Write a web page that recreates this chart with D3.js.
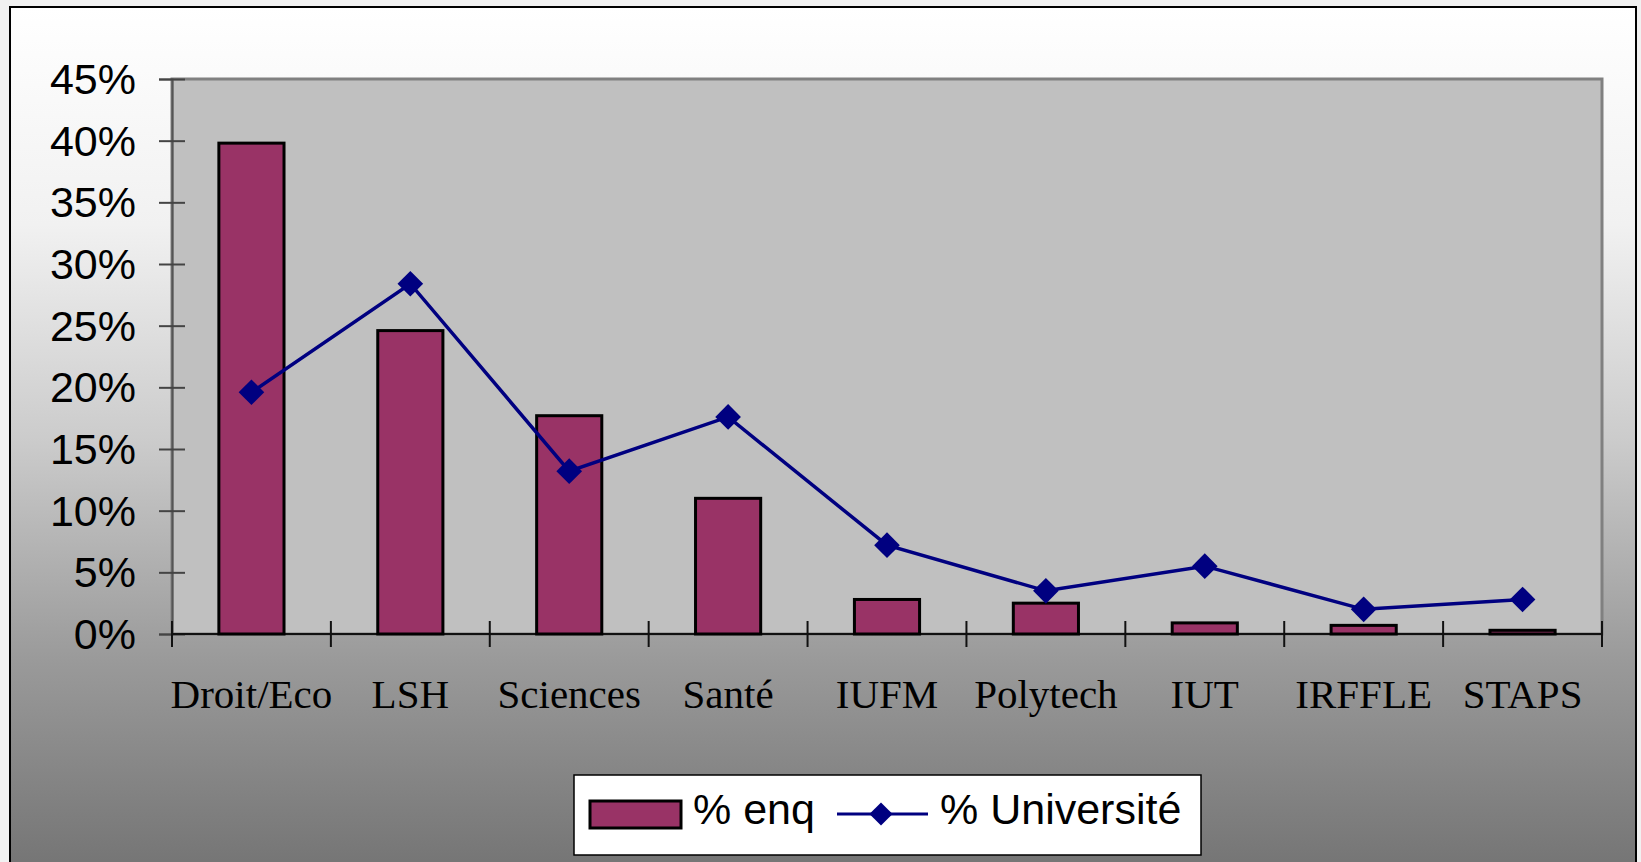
<!DOCTYPE html>
<html>
<head>
<meta charset="utf-8">
<script src="https://cdn.jsdelivr.net/npm/d3@7"></script>
<style>
  html, body { margin: 0; padding: 0; background: #f1f1f1; }
  svg { display: block; }
</style>
</head>
<body>
<svg width="1641" height="862"></svg>
<script>
// data
const categories = ["Droit/Eco", "LSH", "Sciences", "Santé", "IUFM", "Polytech", "IUT", "IRFFLE", "STAPS"];
const pctEnq = [39.8, 24.6, 17.7, 11.0, 2.8, 2.5, 0.9, 0.7, 0.3];
const pctUniv = [19.6, 28.4, 13.2, 17.6, 7.2, 3.5, 5.5, 2.0, 2.8];
const yTicks = [0, 5, 10, 15, 20, 25, 30, 35, 40, 45];
const seriesNames = ["% enq", "% Université"];

const svg = d3.select("svg"),
    width = 1641,
    height = 862;

const plot = { left: 172, top: 79, right: 1602, bottom: 634 };

// background gradient of the chart frame
const defs = svg.append("defs");
const grad = defs.append("linearGradient")
    .attr("id", "bg")
    .attr("x1", 0).attr("y1", 0).attr("x2", 0).attr("y2", 1);
[[0, "#ffffff"], [0.25, "#f1f1f1"], [0.5, "#cbcbcb"], [0.75, "#9a9a9a"], [1, "#737373"]]
    .forEach(function(s) {
        grad.append("stop").attr("offset", s[0]).attr("stop-color", s[1]);
    });

svg.append("rect")
    .attr("x", 10).attr("y", 7)
    .attr("width", 1626).attr("height", 870)
    .attr("fill", "url(#bg)")
    .attr("stroke", "#000")
    .attr("stroke-width", 2);

const x = d3.scaleBand()
    .domain(categories)
    .range([plot.left, plot.right]);

const y = d3.scaleLinear()
    .domain([0, 45])
    .range([plot.bottom, plot.top]);

// plot area
svg.append("rect")
    .attr("x", plot.left).attr("y", plot.top)
    .attr("width", plot.right - plot.left)
    .attr("height", plot.bottom - plot.top)
    .attr("fill", "#c0c0c0")
    .attr("stroke", "#808080")
    .attr("stroke-width", 3);

// y axis
const yAxis = svg.append("g")
    .attr("transform", "translate(" + plot.left + ",0)")
    .call(d3.axisLeft(y)
        .tickValues(yTicks)
        .tickSize(13)
        .tickFormat(function(d) { return d + "%"; }));

yAxis.select(".domain").attr("stroke", "#555").attr("stroke-width", 2);
yAxis.selectAll(".tick line")
    .attr("x1", 13)
    .attr("stroke", "#444")
    .attr("stroke-width", 2);
yAxis.selectAll(".tick text")
    .attr("x", -36)
    .attr("dy", "0.34em")
    .attr("fill", "#000")
    .style("font-family", "'Liberation Sans', Arial, sans-serif")
    .style("font-size", "43px");

// x axis: ticks between the categories
const xAxis = svg.append("g")
    .attr("transform", "translate(0," + plot.bottom + ")");

xAxis.append("line")
    .attr("x1", plot.left).attr("x2", plot.right)
    .attr("stroke", "#111")
    .attr("stroke-width", 2);

xAxis.selectAll(".sep")
    .data(categories.concat(["end"]))
    .enter().append("line")
    .attr("class", "sep")
    .attr("x1", function(d, i) { return plot.left + i * x.bandwidth(); })
    .attr("x2", function(d, i) { return plot.left + i * x.bandwidth(); })
    .attr("y1", -13).attr("y2", 13)
    .attr("stroke", "#111")
    .attr("stroke-width", 2);

xAxis.selectAll(".lab")
    .data(categories)
    .enter().append("text")
    .attr("class", "lab")
    .attr("x", function(d) { return x(d) + x.bandwidth() / 2; })
    .attr("y", 74)
    .attr("text-anchor", "middle")
    .style("font-family", "'Liberation Serif', 'Times New Roman', serif")
    .style("font-size", "41px")
    .text(function(d) { return d; });

// bars
const barW = x.bandwidth() * 0.41;
svg.append("g")
    .selectAll("rect")
    .data(pctEnq)
    .enter().append("rect")
    .attr("x", function(d, i) { return x(categories[i]) + (x.bandwidth() - barW) / 2; })
    .attr("y", function(d) { return y(d); })
    .attr("width", barW)
    .attr("height", function(d) { return y(0) - y(d); })
    .attr("fill", "#993366")
    .attr("stroke", "#000")
    .attr("stroke-width", 3);

// line
const line = d3.line()
    .x(function(d, i) { return x(categories[i]) + x.bandwidth() / 2; })
    .y(function(d) { return y(d); });

svg.append("path")
    .datum(pctUniv)
    .attr("d", line)
    .attr("fill", "none")
    .attr("stroke", "#000080")
    .attr("stroke-width", 3.5);

const diamond = d3.symbol().type(d3.symbolDiamond2).size(420);
svg.append("g")
    .selectAll("path")
    .data(pctUniv)
    .enter().append("path")
    .attr("d", diamond)
    .attr("transform", function(d, i) {
        return "translate(" + (x(categories[i]) + x.bandwidth() / 2) + "," + y(d) + ")";
    })
    .attr("fill", "#000080");

// legend
const legend = svg.append("g").attr("transform", "translate(574,775)");
legend.append("rect")
    .attr("width", 627).attr("height", 80)
    .attr("fill", "#fff")
    .attr("stroke", "#000")
    .attr("stroke-width", 1.5);

legend.append("rect")
    .attr("x", 16).attr("y", 26)
    .attr("width", 91).attr("height", 27)
    .attr("fill", "#993366")
    .attr("stroke", "#000")
    .attr("stroke-width", 3);

legend.append("text")
    .attr("x", 119).attr("y", 49)
    .style("font-family", "'Liberation Sans', Arial, sans-serif")
    .style("font-size", "43px")
    .text(seriesNames[0]);

legend.append("line")
    .attr("x1", 263).attr("x2", 354)
    .attr("y1", 39).attr("y2", 39)
    .attr("stroke", "#000080")
    .attr("stroke-width", 3);

legend.append("path")
    .attr("d", d3.symbol().type(d3.symbolDiamond2).size(340))
    .attr("transform", "translate(307,39)")
    .attr("fill", "#000080");

legend.append("text")
    .attr("x", 366).attr("y", 49)
    .style("font-family", "'Liberation Sans', Arial, sans-serif")
    .style("font-size", "43px")
    .text(seriesNames[1]);
</script>
</body>
</html>
